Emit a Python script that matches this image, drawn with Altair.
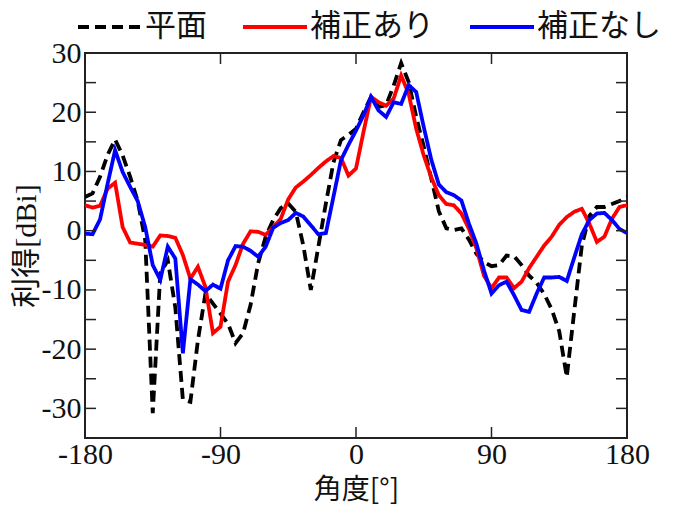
import altair as alt
import pandas as pd

angles = [-180, -175, -170, -165, -160, -155, -150, -145, -140, -135, -130, -125, -120,
          -115, -110, -105, -100, -95, -90, -85, -80, -75, -70, -65, -60, -55, -50,
          -45, -40, -35, -30, -25, -20, -15, -10, -5, 0, 5, 10, 15, 20, 25, 30,
          35, 40, 45, 50, 55, 60, 65, 70, 75, 80, 85, 90, 95, 100, 105, 110,
          115, 120, 125, 130, 135, 140, 145, 150, 155, 160, 165, 170, 175, 180]

heimen = [5.7, 6.3, 9.1, 12.8, 15.4, 12.7, 9.1, 5.0, -1.6, -30.8, -7.2, -5.0, -13.0,
          -28.5, -28.9, -18.5, -10.6, -12.3, -14.0, -15.7, -19.0, -17.3, -12.5, -5.5, -1.0, 1.8, 3.8,
          4.6, 3.2, -2.5, -10.0, -2.7, 4.6, 11.5, 15.3, 16.2, 17.2, 20.0, 22.6, 20.9, 21.2, 24.5, 28.3,
          25.1, 19.2, 14.2, 8.8, 3.3, 0.4, 0.1, 0.4, -1.5, -3.9, -5.3, -6.0, -5.8, -4.2, -4.3, -5.8,
          -7.6, -8.8, -10.7, -13.3, -17.0, -24.7, -13.5, -2.5, 2.5, 4.0, 4.0, 4.5, 5.0, 5.7]

hosei_ari = [4.3, 3.9, 4.2, 7.1, 8.1, 0.6, -2.0, -2.2, -2.4, -2.7, -0.8, -0.9, -1.2,
             -4.1, -8.1, -6.1, -9.5, -17.3, -16.2, -8.6, -5.8, -2.2, -0.1, -0.2, -0.7, 0.6, 2.0,
             5.3, 7.3, 8.3, 9.4, 10.6, 11.7, 12.6, 12.3, 9.3, 10.5, 16.7, 22.6, 21.7, 21.1, 22.3, 26.2,
             23.1, 17.2, 12.7, 9.0, 6.0, 4.5, 4.3, 2.9, 0.3, -3.0, -7.6, -9.7, -7.9, -7.9, -9.7, -8.6,
             -6.3, -4.4, -2.5, -1.0, 1.0, 2.3, 3.2, 3.7, 1.2, -1.9, -1.0, 2.0, 4.0, 4.3]

hosei_nashi = [-0.5, -0.6, 1.9, 7.9, 13.6, 9.9, 7.4, 5.0, 0.6, -5.8, -8.3, -2.7, -4.7,
               -20.7, -8.2, -9.1, -10.2, -9.1, -9.8, -5.0, -2.6, -2.7, -3.4, -4.4, -2.7, 0.5, 1.3,
               1.8, 3.0, 2.4, 0.9, -0.6, -0.4, 5.7, 11.9, 14.5, 16.9, 19.5, 22.6, 20.3, 19.2, 21.7, 21.4,
               24.6, 23.4, 17.5, 12.0, 7.8, 6.5, 6.0, 5.1, 1.2, -2.2, -6.7, -10.6, -9.2, -8.6, -10.9, -13.4,
               -13.7, -10.6, -7.9, -7.9, -7.8, -8.5, -4.5, -0.6, 1.8, 2.9, 3.0, 1.8, 0.3, -0.4]

series_names = ["平面", "補正あり", "補正なし"]
series_colors = ["#000000", "#ff0000", "#0000ff"]
series_dashes = [[11, 6], [1, 0], [1, 0]]

x_ticks = [-180, -90, 0, 90, 180]
y_ticks = [-35, -30, -25, -20, -15, -10, -5, 0, 5, 10, 15, 20, 25, 30]

W, H = 542, 385
TICK_LEN = 11

rows = []
for name, vals in zip(series_names, [heimen, hosei_ari, hosei_nashi]):
    for i, (a, v) in enumerate(zip(angles, vals)):
        rows.append({"angle": a, "gain": v, "series": name, "idx": i})
df = pd.DataFrame(rows)
xt_df = pd.DataFrame({"angle": x_ticks})
yt_df = pd.DataFrame({"gain": y_ticks})

FONT = "Liberation Serif, Noto Sans CJK JP"
CJK_FONT = "Noto Sans CJK JP, Liberation Serif"

x_scale = alt.Scale(domain=[-180, 180], nice=False, zero=False)
y_scale = alt.Scale(domain=[-35, 30], nice=False, zero=False)

legend = alt.Legend(
    title=None, orient="none", legendX=-9, legendY=-60, direction="horizontal",
    columns=3, symbolType="stroke", symbolSize=4096, symbolStrokeWidth=4,
    labelFont=FONT, labelFontSize=31, labelOffset=1, columnPadding=28,
    labelLimit=400, labelColor="#111",
)

common_axis = dict(domain=False, ticks=False, labelColor="#111", titleColor="#111",
                   grid=False, labelFontSize=30, titleFontWeight="normal",
                   labelFont=FONT)

x_axis = alt.Axis(values=x_ticks, title="角度[°]", labelPadding=1, titlePadding=7,
                  titleFontSize=28,
                  labelFlush=False, labelExpr="'' + datum.value", titleFont=CJK_FONT,
                  **common_axis)
y_axis = alt.Axis(values=y_ticks, title="利得[dBi]", labelPadding=4, titlePadding=0,
                  titleFontSize=30,
                  labelExpr="datum.value % 10 == 0 ? '' + datum.value : ''",
                  titleFont=FONT, **common_axis)

lines = alt.Chart(df).mark_line(strokeWidth=3.8, clip=True).encode(
    x=alt.X("angle:Q", scale=x_scale, axis=x_axis),
    y=alt.Y("gain:Q", scale=y_scale, axis=y_axis),
    color=alt.Color("series:N", scale=alt.Scale(domain=series_names, range=series_colors),
                    legend=legend),
    strokeDash=alt.StrokeDash("series:N",
                              scale=alt.Scale(domain=series_names, range=series_dashes),
                              legend=legend),
    order="idx:Q",
)

tick_style = dict(color="#222", strokeWidth=1.5)
left_ticks = alt.Chart(yt_df).mark_rule(**tick_style).encode(
    y=alt.Y("gain:Q", scale=y_scale, axis=y_axis),
    x=alt.value(0), x2=alt.value(TICK_LEN))
right_ticks = alt.Chart(yt_df).mark_rule(**tick_style).encode(
    y=alt.Y("gain:Q", scale=y_scale, axis=y_axis),
    x=alt.value(W - TICK_LEN), x2=alt.value(W))
bottom_ticks = alt.Chart(xt_df).mark_rule(**tick_style).encode(
    x=alt.X("angle:Q", scale=x_scale, axis=x_axis),
    y=alt.value(H - TICK_LEN), y2=alt.value(H))
top_ticks = alt.Chart(xt_df).mark_rule(**tick_style).encode(
    x=alt.X("angle:Q", scale=x_scale, axis=x_axis),
    y=alt.value(0), y2=alt.value(TICK_LEN))

chart = alt.layer(lines, left_ticks, right_ticks, bottom_ticks, top_ticks).properties(
    width=W, height=H,
    autosize=alt.AutoSizeParams(type="none"),
    padding={"left": 77, "top": 45, "right": 48, "bottom": 67},
).configure_view(stroke="#222", strokeWidth=2)

chart.save("out.html", embed_options={"renderer": "svg", "actions": False})
